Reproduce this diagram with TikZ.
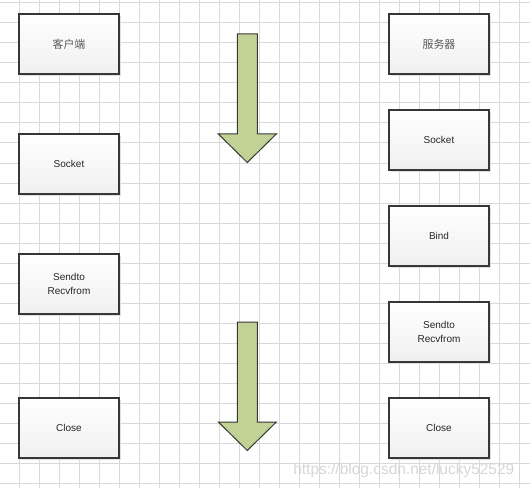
\documentclass[tikz,border=0pt]{standalone}
\usepackage{fontspec}
\setmainfont{Liberation Sans}
\newfontfamily\cjk{Noto Sans CJK SC}
\usetikzlibrary{positioning, shadows}

\definecolor{gridgray}{RGB}{217,217,217}
\definecolor{arrowgreen}{RGB}{194,210,150}
\definecolor{boxline}{RGB}{55,55,55}

\tikzset{
	box/.style={draw=boxline, line width=0.9pt, top color=white, bottom color=black!6,
		minimum width=75pt, minimum height=45pt, inner sep=0pt, outer sep=0pt,
		align=center, font=\fontsize{7.5}{10.2}\selectfont, text=black!85,
		drop shadow={shadow xshift=1.5pt, shadow yshift=-1.5pt, fill=black!12, opacity=1}},
	cnbox/.style={box, font=\cjk\fontsize{8.2}{10}\selectfont, text=black!65},
	flow/.style={draw=boxline, line width=0.75pt, fill=arrowgreen},
}

\begin{document}
\begin{tikzpicture}[x=0.75pt, y=-0.75pt]

	\useasboundingbox (0,0) rectangle (530,488);

	% grid
	\foreach \gx in {19,39,...,519}
		\draw[gridgray, line width=0.75pt] (\gx,0) -- (\gx,488);
	\foreach \gy in {3,23,...,483}
		\draw[gridgray, line width=0.75pt] (0,\gy) -- (530,\gy);

	% client side
	\node[cnbox] (client) at (69,44) {客户端};
	\node[box, below=45pt of client] (csocket) {Socket};
	\node[box, below=45pt of csocket] (csend) {Sendto\\Recvfrom};
	\node[box, below=63pt of csend] (cclose) {Close};

	% server side
	\node[cnbox] (server) at (439,44) {服务器};
	\node[box, below=27pt of server] (ssocket) {Socket};
	\node[box, below=27pt of ssocket] (sbind) {Bind};
	\node[box, below=27pt of sbind] (ssend) {Sendto\\Recvfrom};
	\node[box, below=27pt of ssend] (sclose) {Close};

	% big arrows
	\foreach \ay in {34,322}
		\draw[flow] (237.3,\ay) -- ++(20,0) -- ++(0,100) -- ++(19,0)
			-- ++(-29,28.5) -- ++(-29,-28.5) -- ++(19,0) -- cycle;

	\node[anchor=base east, font=\fontsize{11.6}{12}\selectfont, text=black!16] (mark)
		at (519,474) {https://blog.csdn.net/lucky52529};

\end{tikzpicture}
\end{document}
